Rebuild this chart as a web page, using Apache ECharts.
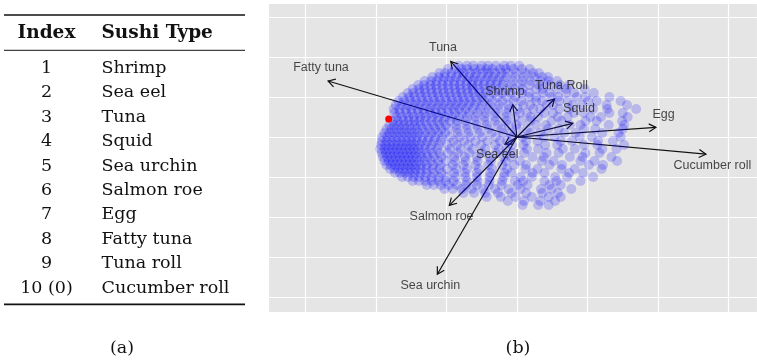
<!DOCTYPE html>
<html>
<head>
<meta charset="utf-8">
<script src="https://cdn.jsdelivr.net/npm/echarts@6/dist/echarts.min.js"></script>
<style>
  html, body { margin: 0; padding: 0; background: #ffffff; }
  #chart { width: 757px; height: 361px; }
</style>
</head>
<body>
<div id="chart"></div>
<script>
// ---- Table (a): sushi index and names ----
const tableIndex = ['1', '2', '3', '4', '5', '6', '7', '8', '9', '10 (0)'];
const sushiTypes = ['Shrimp', 'Sea eel', 'Tuna', 'Squid', 'Sea urchin',
                    'Salmon roe', 'Egg', 'Fatty tuna', 'Tuna roll', 'Cucumber roll'];
const tableHeaders = ['Index', 'Sushi Type'];

// ---- Biplot (b): loading arrows ----
const arrowNames = ['Shrimp', 'Sea eel', 'Tuna', 'Squid', 'Sea urchin',
                    'Salmon roe', 'Egg', 'Fatty tuna', 'Tuna Roll', 'Cucumber roll'];
const arrowX = [-0.06, -0.17, -0.94, 0.79, -1.13, -0.96, 1.97, -2.68, 0.53, 2.68];
const arrowY = [0.81, -0.18, 1.89, 0.34, -3.43, -1.71, 0.24, 1.40, 0.95, -0.43];
// label anchor points for each arrow
const labelX = [-0.17, -0.28, -1.05, 0.88, -1.23, -1.07, 2.08, -2.78, 0.63, 2.77];
const labelY = [1.13, -0.44, 2.23, 0.70, -3.72, -1.98, 0.55, 1.74, 1.28, -0.72];

// highlighted respondent
const highlightPoint = [-1.82, 0.45];

// respondent scores, listed row by row: [y, [x, x, ...]]
const cloudRows = [
  [1.78, [-0.83, -0.71, -0.62, -0.50, -0.41, -0.30, -0.18, -0.09, 0.03]],
  [1.70, [-0.98, -0.88, -0.79, -0.71, -0.60, -0.52, -0.43, -0.35, -0.24, -0.16, -0.05, 0.07, 0.18]],
  [1.60, [-1.10, -1.02, -0.93, -0.83, -0.76, -0.66, -0.58, -0.48, -0.40, -0.31, -0.22, -0.13, -0.01, 0.12, 0.23, 0.31]],
  [1.50, [-1.20, -1.11, -1.03, -0.94, -0.86, -0.77, -0.68, -0.60, -0.51, -0.42, -0.34, -0.25, -0.15, -0.02, 0.10, 0.24, 0.36, 0.44]],
  [1.40, [-1.31, -1.22, -1.14, -1.05, -0.97, -0.89, -0.80, -0.71, -0.63, -0.55, -0.46, -0.37, -0.28, -0.19, -0.06, 0.07, 0.19, 0.33, 0.45, 0.57]],
  [1.30, [-1.40, -1.32, -1.23, -1.15, -1.06, -0.98, -0.89, -0.81, -0.72, -0.64, -0.56, -0.47, -0.38, -0.30, -0.20, -0.08, 0.05, 0.18, 0.31, 0.46, 0.61, 0.74]],
  [1.20, [-1.48, -1.39, -1.31, -1.22, -1.14, -1.05, -0.97, -0.88, -0.80, -0.71, -0.63, -0.54, -0.45, -0.36, -0.26, -0.14, -0.03, 0.08, 0.27, 0.36, 0.57, 0.70, 0.96]],
  [1.10, [-1.55, -1.47, -1.38, -1.30, -1.21, -1.13, -1.04, -0.96, -0.87, -0.79, -0.70, -0.62, -0.53, -0.44, -0.33, -0.21, -0.09, 0.07, 0.17, 0.37, 0.46, 0.69, 0.81, 1.09]],
  [1.00, [-1.62, -1.53, -1.45, -1.36, -1.28, -1.19, -1.11, -1.02, -0.94, -0.85, -0.77, -0.68, -0.59, -0.50, -0.40, -0.28, -0.15, -0.02, 0.17, 0.27, 0.49, 0.58, 0.85, 0.97, 1.31]],
  [0.90, [-1.68, -1.60, -1.51, -1.43, -1.34, -1.26, -1.17, -1.09, -1.00, -0.92, -0.83, -0.75, -0.66, -0.57, -0.47, -0.35, -0.21, -0.05, 0.06, 0.27, 0.36, 0.60, 0.72, 1.01, 1.13, 1.47]],
  [0.80, [-1.72, -1.63, -1.55, -1.46, -1.38, -1.29, -1.21, -1.12, -1.04, -0.95, -0.87, -0.78, -0.69, -0.60, -0.50, -0.38, -0.25, -0.12, 0.09, 0.19, 0.42, 0.51, 0.79, 0.92, 1.27, 1.56]],
  [0.70, [-1.75, -1.67, -1.58, -1.50, -1.41, -1.33, -1.24, -1.16, -1.07, -0.99, -0.90, -0.82, -0.73, -0.63, -0.52, -0.40, -0.27, -0.12, 0.01, 0.23, 0.33, 0.60, 0.74, 1.08, 1.28, 1.69]],
  [0.60, [-1.74, -1.66, -1.57, -1.49, -1.40, -1.32, -1.23, -1.15, -1.06, -0.97, -0.88, -0.78, -0.68, -0.56, -0.44, -0.30, -0.15, 0.04, 0.14, 0.39, 0.51, 0.81, 0.95, 1.31, 1.50]],
  [0.50, [-1.71, -1.63, -1.54, -1.46, -1.37, -1.29, -1.20, -1.11, -1.02, -0.92, -0.82, -0.71, -0.59, -0.46, -0.32, -0.17, -0.03, 0.19, 0.30, 0.58, 0.72, 1.04, 1.19, 1.57]],
  [0.40, [-1.76, -1.69, -1.61, -1.54, -1.46, -1.39, -1.31, -1.22, -1.13, -1.04, -0.95, -0.85, -0.73, -0.60, -0.46, -0.31, -0.15, 0.06, 0.19, 0.49, 0.63, 0.97, 1.13, 1.49]],
  [0.30, [-1.81, -1.74, -1.67, -1.60, -1.52, -1.45, -1.37, -1.28, -1.19, -1.10, -1.01, -0.86, -0.72, -0.58, -0.43, -0.27, -0.12, -0.01, 0.27, 0.41, 0.75, 0.90, 1.30, 1.52]],
  [0.20, [-1.85, -1.78, -1.71, -1.64, -1.57, -1.50, -1.42, -1.34, -1.25, -1.16, -1.07, -0.97, -0.85, -0.71, -0.56, -0.40, -0.22, 0.00, 0.14, 0.44, 0.59, 0.95, 1.11, 1.50]],
  [0.10, [-1.88, -1.81, -1.74, -1.67, -1.60, -1.53, -1.46, -1.39, -1.30, -1.21, -1.12, -1.02, -0.84, -0.69, -0.53, -0.36, -0.20, -0.09, 0.19, 0.33, 0.67, 0.83, 1.21, 1.44]],
  [0.00, [-1.91, -1.84, -1.77, -1.70, -1.63, -1.56, -1.49, -1.42, -1.34, -1.25, -1.16, -1.06, -0.95, -0.81, -0.66, -0.49, -0.30, -0.07, 0.08, 0.38, 0.53, 0.89, 1.06, 1.47]],
  [-0.10, [-1.92, -1.85, -1.78, -1.71, -1.64, -1.57, -1.50, -1.43, -1.35, -1.27, -1.18, -1.08, -0.90, -0.75, -0.59, -0.42, -0.24, -0.14, 0.13, 0.29, 0.62, 0.78, 1.15, 1.36]],
  [-0.20, [-1.93, -1.87, -1.81, -1.75, -1.69, -1.63, -1.57, -1.51, -1.45, -1.38, -1.30, -1.21, -1.11, -0.99, -0.85, -0.69, -0.51, -0.31, -0.07, 0.09, 0.40, 0.57, 0.95, 1.14, 1.52]],
  [-0.30, [-1.94, -1.88, -1.82, -1.76, -1.70, -1.64, -1.58, -1.52, -1.46, -1.40, -1.32, -1.23, -1.13, -0.95, -0.80, -0.63, -0.45, -0.26, -0.15, 0.14, 0.30, 0.65, 0.82, 1.21, 1.41]],
  [-0.40, [-1.92, -1.86, -1.80, -1.74, -1.68, -1.62, -1.56, -1.50, -1.44, -1.37, -1.29, -1.20, -1.10, -0.98, -0.84, -0.68, -0.50, -0.30, -0.06, 0.10, 0.42, 0.59, 0.97, 1.17]],
  [-0.50, [-1.90, -1.84, -1.78, -1.72, -1.66, -1.60, -1.54, -1.48, -1.42, -1.35, -1.27, -1.18, -1.07, -0.89, -0.74, -0.57, -0.39, -0.19, -0.08, 0.22, 0.38, 0.75, 0.93, 1.34]],
  [-0.60, [-1.88, -1.82, -1.76, -1.70, -1.64, -1.58, -1.52, -1.46, -1.39, -1.31, -1.22, -1.12, -1.01, -0.88, -0.73, -0.56, -0.37, -0.16, 0.04, 0.35, 0.52, 0.90, 1.10, 1.42]],
  [-0.70, [-1.85, -1.79, -1.73, -1.67, -1.61, -1.55, -1.49, -1.43, -1.36, -1.28, -1.19, -1.09, -0.91, -0.76, -0.59, -0.41, -0.21, -0.04, 0.13, 0.46, 0.64, 1.02, 1.22]],
  [-0.80, [-1.80, -1.74, -1.68, -1.62, -1.56, -1.50, -1.44, -1.37, -1.29, -1.20, -1.10, -0.99, -0.86, -0.71, -0.54, -0.35, -0.14, 0.12, 0.29, 0.63, 0.82, 1.20]],
  [-0.90, [-1.73, -1.66, -1.59, -1.52, -1.45, -1.37, -1.28, -1.18, -1.07, -0.89, -0.74, -0.57, -0.38, -0.18, -0.08, 0.22, 0.39, 0.74, 0.94]],
  [-1.00, [-1.63, -1.55, -1.47, -1.39, -1.30, -1.21, -1.11, -1.00, -0.87, -0.73, -0.57, -0.39, -0.19, 0.05, 0.21, 0.54, 0.71, 1.08]],
  [-1.10, [-1.48, -1.39, -1.30, -1.21, -1.11, -1.01, -0.90, -0.71, -0.56, -0.39, -0.21, -0.03, 0.09, 0.39, 0.56, 0.90]],
  [-1.20, [-1.28, -1.18, -1.08, -0.97, -0.85, -0.72, -0.57, -0.40, -0.22, 0.01, 0.15, 0.46, 0.62]],
  [-1.30, [-1.03, -0.91, -0.78, -0.64, -0.48, -0.31, -0.12, 0.05, 0.34, 0.49, 0.77]],
  [-1.40, [-0.76, -0.61, -0.45, -0.27, -0.08, 0.13, 0.36, 0.58]],
  [-1.50, [-0.43, -0.23, -0.02, 0.21, 0.45, 0.62]],
  [-1.60, [-0.13, 0.10, 0.33, 0.54]],
  [-1.70, [0.08, 0.30, 0.45]]
];

// flatten the rows into [x, y] pairs for the scatter series
const cloudPoints = [];
cloudRows.forEach(function (row) {
  row[1].forEach(function (x) { cloudPoints.push([x, row[0]]); });
});

const arrowData = arrowX.map(function (x, i) { return { name: arrowNames[i], value: [x, arrowY[i]] }; });
const labelData = labelX.map(function (x, i) { return { name: arrowNames[i], value: [x, labelY[i]] }; });

// ---- layout of the table and captions ----
const serif = '"DejaVu Serif", "Liberation Serif", serif';
const bodyFont = '17.5px ' + serif;
const headFont = 'bold 18.5px ' + serif;
const tableLeft = 4, tableRight = 245;
const indexColX = 46.5, nameColX = 101.5;
const headerY = 33, firstRowY = 68.5, rowStep = 24.4;

const graphics = [];
graphics.push({ type: 'line', shape: { x1: tableLeft, y1: 15, x2: tableRight, y2: 15 }, style: { stroke: '#111', lineWidth: 1.7 } });
graphics.push({ type: 'line', shape: { x1: tableLeft, y1: 50.3, x2: tableRight, y2: 50.3 }, style: { stroke: '#111', lineWidth: 1 } });
graphics.push({ type: 'line', shape: { x1: tableLeft, y1: 304.3, x2: tableRight, y2: 304.3 }, style: { stroke: '#111', lineWidth: 1.7 } });
graphics.push({ type: 'text', x: indexColX, y: headerY, style: { text: tableHeaders[0], font: headFont, fill: '#111', align: 'center', verticalAlign: 'middle' } });
graphics.push({ type: 'text', x: nameColX, y: headerY, style: { text: tableHeaders[1], font: headFont, fill: '#111', align: 'left', verticalAlign: 'middle' } });
tableIndex.forEach(function (idx, i) {
  const y = firstRowY + i * rowStep;
  graphics.push({ type: 'text', x: indexColX, y: y, style: { text: idx, font: bodyFont, fill: '#111', align: 'center', verticalAlign: 'middle' } });
  graphics.push({ type: 'text', x: nameColX, y: y, style: { text: sushiTypes[i], font: bodyFont, fill: '#111', align: 'left', verticalAlign: 'middle' } });
});
graphics.push({ type: 'text', x: 122, y: 348, style: { text: '(a)', font: bodyFont, fill: '#111', align: 'center', verticalAlign: 'middle' } });
graphics.push({ type: 'text', x: 518, y: 348, style: { text: '(b)', font: bodyFont, fill: '#111', align: 'center', verticalAlign: 'middle' } });

const chart = echarts.init(document.getElementById('chart'), null, { renderer: 'canvas' });

chart.setOption({
  animation: false,
  backgroundColor: '#ffffff',
  grid: {
    left: 268, top: 3, right: 0, bottom: 49,
    show: true, backgroundColor: '#e5e5e5', borderWidth: 0
  },
  xAxis: {
    type: 'value', min: -3.532, max: 3.404, minInterval: 1, maxInterval: 1,
    axisLine: { show: false }, axisTick: { show: false }, axisLabel: { show: false },
    splitLine: { show: true, lineStyle: { color: '#ffffff', width: 1.2 } }
  },
  yAxis: {
    type: 'value', min: -4.375, max: 3.35, minInterval: 1, maxInterval: 1,
    axisLine: { show: false }, axisTick: { show: false }, axisLabel: { show: false },
    splitLine: { show: true, lineStyle: { color: '#ffffff', width: 1.2 } }
  },
  graphic: graphics,
  series: [
    {
      name: 'scores',
      type: 'scatter',
      data: cloudPoints,
      symbol: 'circle',
      symbolSize: 10,
      silent: true,
      large: false,
      itemStyle: { color: '#0000ff', opacity: 0.2 }
    },
    {
      name: 'highlight',
      type: 'scatter',
      data: [highlightPoint],
      symbolSize: 7,
      silent: true,
      itemStyle: { color: '#ff0000', opacity: 1 }
    },
    {
      name: 'loadings',
      type: 'custom',
      coordinateSystem: 'cartesian2d',
      encode: { x: 0, y: 1 },
      data: arrowData,
      silent: true,
      renderItem: function (params, api) {
        const o = api.coord([0, 0]);
        const t = api.coord([api.value(0), api.value(1)]);
        const ang = Math.atan2(t[1] - o[1], t[0] - o[0]);
        const len = 8, spread = Math.PI / 6;
        const h1 = [t[0] - len * Math.cos(ang - spread), t[1] - len * Math.sin(ang - spread)];
        const h2 = [t[0] - len * Math.cos(ang + spread), t[1] - len * Math.sin(ang + spread)];
        return {
          type: 'group',
          children: [
            { type: 'line', shape: { x1: o[0], y1: o[1], x2: t[0], y2: t[1] }, style: { stroke: '#111', lineWidth: 1.2 } },
            { type: 'polyline', shape: { points: [h1, t, h2] }, style: { stroke: '#111', lineWidth: 1.2, fill: null } }
          ]
        };
      }
    },
    {
      name: 'loading labels',
      type: 'scatter',
      data: labelData,
      symbolSize: 0.1,
      silent: true,
      itemStyle: { color: 'rgba(0,0,0,0)' },
      label: {
        show: true, position: 'inside', formatter: '{b}',
        color: '#1a1a1a', fontSize: 12.5, fontFamily: '"Liberation Sans", Arial, sans-serif'
      }
    }
  ]
});
</script>
</body>
</html>
